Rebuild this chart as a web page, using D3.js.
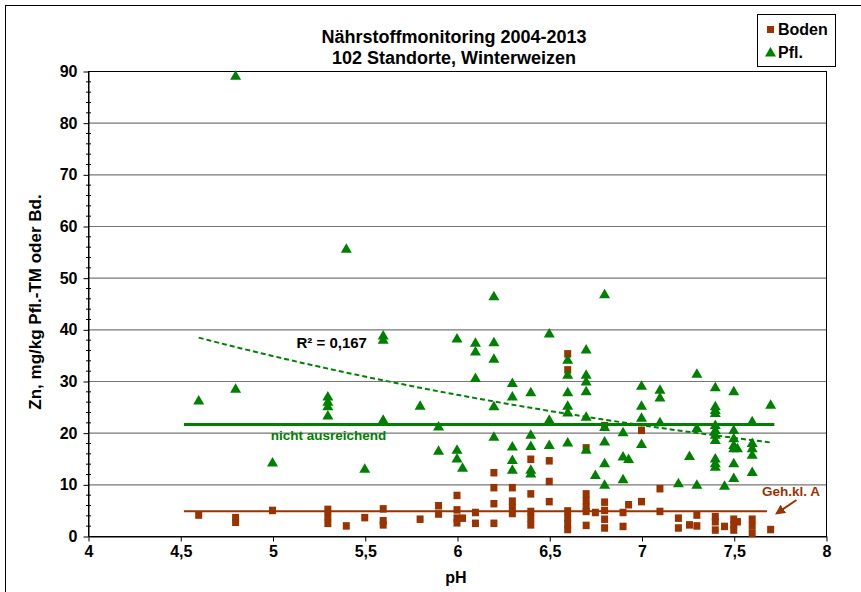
<!DOCTYPE html>
<html>
<head>
<meta charset="utf-8">
<script src="https://cdn.jsdelivr.net/npm/d3@7/dist/d3.min.js"></script>
<style>
body { margin: 0; background: white; }
text { font-family: Arial, "Liberation Sans", sans-serif; font-weight: bold; }
</style>
</head>
<body>
<div id="canvas"></div>
<script>
"use strict"

/* Boden samples (pH, Zn mg/kg) */
let bodenPH = [4.6, 4.8, 4.8, 5.0, 5.3, 5.3, 5.3, 5.4, 5.5, 5.6, 5.6, 5.6, 5.8, 5.9, 5.9,
    6.0, 6.0, 6.0, 6.0, 6.03, 6.1, 6.1, 6.2, 6.2, 6.2, 6.2, 6.3, 6.3, 6.3, 6.3,
    6.4, 6.4, 6.4, 6.4, 6.4, 6.5, 6.5, 6.5, 6.6, 6.6, 6.6, 6.6, 6.6, 6.6,
    6.7, 6.7, 6.7, 6.7, 6.7, 6.7, 6.75, 6.8, 6.8, 6.8, 6.8, 6.8, 6.9, 6.9, 6.93,
    7.0, 7.0, 7.1, 7.1, 7.2, 7.2, 7.26, 7.3, 7.3, 7.4, 7.4, 7.4, 7.45,
    7.5, 7.5, 7.5, 7.52, 7.6, 7.6, 7.6, 7.7];
let bodenZn = [4.1, 3.6, 2.7, 5.0, 5.2, 3.8, 2.5, 2.0, 3.6, 5.3, 3.0, 2.2, 3.3, 5.9, 4.3,
    7.9, 5.1, 3.5, 2.6, 3.5, 4.6, 2.5, 12.3, 9.4, 6.3, 2.5, 9.4, 6.8, 5.6, 4.4,
    14.9, 8.2, 4.8, 3.5, 2.2, 14.6, 10.6, 6.7, 35.3, 32.2, 4.9, 3.6, 2.4, 1.3,
    17.1, 8.2, 6.9, 5.6, 4.8, 2.1, 4.6, 21.4, 6.6, 5.0, 3.3, 1.6, 4.6, 1.9, 6.1,
    20.5, 6.7, 9.2, 4.8, 3.5, 1.6, 2.2, 4.1, 2.0, 3.8, 2.8, 1.2, 1.9,
    3.3, 2.2, 1.2, 2.8, 3.3, 2.0, 0.6, 1.3];

/* Pflanze samples (pH, Zn mg/kg TM) */
let pflPH = [4.6, 4.8, 4.8, 5.0, 5.3, 5.3, 5.3, 5.3, 5.4, 5.5, 5.6, 5.6, 5.6, 5.8, 5.9, 5.9,
    6.0, 6.0, 6.0, 6.03, 6.1, 6.1, 6.1, 6.2, 6.2, 6.2, 6.2, 6.2,
    6.3, 6.3, 6.3, 6.3, 6.3, 6.4, 6.4, 6.4, 6.4, 6.4, 6.5, 6.5, 6.5,
    6.6, 6.6, 6.6, 6.6, 6.6, 6.6, 6.7, 6.7, 6.7, 6.7, 6.7, 6.7, 6.75,
    6.8, 6.8, 6.8, 6.8, 6.8, 6.9, 6.9, 6.9, 6.93, 7.0, 7.0, 7.0, 7.0,
    7.1, 7.1, 7.1, 7.2, 7.26, 7.3, 7.3, 7.3,
    7.4, 7.4, 7.4, 7.4, 7.4, 7.4, 7.4, 7.4, 7.4, 7.4, 7.4, 7.45,
    7.5, 7.5, 7.5, 7.5, 7.5, 7.5, 7.5, 7.52, 7.6, 7.6, 7.6, 7.6, 7.6, 7.7];
let pflZn = [26.3, 89.2, 28.6, 14.3, 27.1, 26.1, 25.2, 23.4, 55.7, 13.1, 38.9, 38.1, 22.6, 25.3, 21.3, 16.6,
    38.3, 16.8, 15.1, 13.3, 37.5, 35.8, 30.7, 46.5, 37.6, 34.4, 25.2, 19.3,
    29.7, 27.1, 17.4, 14.8, 12.9, 27.9, 19.7, 17.5, 12.9, 12.2, 39.3, 22.6, 17.7,
    34.2, 31.3, 27.9, 25.3, 24.0, 18.2, 36.2, 31.3, 30.0, 28.1, 23.2, 16.8, 11.9,
    46.9, 21.2, 18.4, 14.2, 10.0, 20.2, 15.5, 11.1, 15.0, 29.2, 25.3, 23.0, 17.9,
    28.4, 26.9, 22.1, 10.3, 15.6, 31.5, 21.0, 10.0,
    28.9, 25.2, 24.5, 23.9, 21.6, 20.6, 19.7, 18.7, 15.1, 14.2, 13.5, 9.8,
    28.1, 20.6, 19.0, 17.7, 17.1, 14.2, 11.3, 17.1, 22.3, 18.1, 17.1, 15.8, 12.5, 25.5];

let xTicks = [4, 4.5, 5, 5.5, 6, 6.5, 7, 7.5, 8];
let yTicks = [0, 10, 20, 30, 40, 50, 60, 70, 80, 90];
let titleLines = ["Nährstoffmonitoring 2004-2013", "102 Standorte, Winterweizen"];

/* reference levels and exponential trend (y = a * e^(b*x)) */
let grenzePfl = 21.6;
let grenzeBoden = 4.8;
let trendA = 117.2;
let trendB = -0.2426;
let trendFrom = 4.6;
let trendTo = 7.7;

let drawingWidth = 861;
let drawingHeight = 592;
let green = "#008000";
let brown = "#993300";

let plotLeft = 88, plotTop = 71, plotW = 738, plotH = 465;

let drawing = d3.select("#canvas")
    .append("svg")
    .attr("width", drawingWidth)
    .attr("height", drawingHeight);

/* outer frame of the chart */
drawing.append("rect")
    .attr("x", 5.5)
    .attr("y", 5.5)
    .attr("width", drawingWidth + 20)
    .attr("height", drawingHeight + 20)
    .attr("fill", "white")
    .attr("stroke", "black");

let x = d3.scaleLinear().domain([4, 8]).range([plotLeft, plotLeft + plotW]);
let y = d3.scaleLinear().domain([0, 90]).range([plotTop + plotH, plotTop]);

/* gridlines */
drawing.append("g")
    .selectAll("line")
    .data(yTicks.filter(d => d > 0 && d < 90))
    .join("line")
    .attr("x1", plotLeft)
    .attr("x2", plotLeft + plotW)
    .attr("y1", d => y(d) + 0.5)
    .attr("y2", d => y(d) + 0.5)
    .attr("stroke", "#777")
    .attr("stroke-width", 1.2);

drawing.append("rect")
    .attr("x", plotLeft + 0.5)
    .attr("y", plotTop + 0.5)
    .attr("width", plotW)
    .attr("height", plotH)
    .attr("fill", "none")
    .attr("stroke", "black");

/* axes */
let yAxis = drawing.append("g")
    .attr("transform", `translate(${plotLeft + 0.5},0.5)`)
    .call(d3.axisLeft(y).tickValues(yTicks).tickSize(5).tickSizeOuter(0).tickPadding(6)
        .tickFormat(d3.format("d")));

let xAxis = drawing.append("g")
    .attr("transform", `translate(0.5,${plotTop + plotH + 0.5})`)
    .call(d3.axisBottom(x).tickValues(xTicks).tickSize(5).tickSizeOuter(0).tickPadding(4)
        .tickFormat(d => String(d).replace(".", ",")));

[yAxis, xAxis].forEach(a => {
    a.selectAll("text").attr("font-size", 16).attr("fill", "black")
        .attr("font-family", "Arial, 'Liberation Sans', sans-serif").attr("font-weight", "bold");
    a.selectAll("line").attr("stroke", "black");
    a.select(".domain").attr("stroke", "black");
});

/* minor ticks on y every 2 units */
drawing.append("g")
    .selectAll("line")
    .data(d3.range(0, 91, 2).filter(d => d % 10 !== 0))
    .join("line")
    .attr("x1", plotLeft - 2)
    .attr("x2", plotLeft + 3)
    .attr("y1", d => y(d) + 0.5)
    .attr("y2", d => y(d) + 0.5)
    .attr("stroke", "black");

/* Boden squares */
drawing.append("g")
    .selectAll("rect")
    .data(d3.range(bodenPH.length))
    .join("rect")
    .attr("x", i => x(bodenPH[i]) - 3.5)
    .attr("y", i => y(bodenZn[i]) - 3.5)
    .attr("width", 7)
    .attr("height", 7.5)
    .attr("fill", brown);

/* reference lines */
drawing.append("line")
    .attr("x1", x(4.52)).attr("x2", x(7.68))
    .attr("y1", y(grenzeBoden)).attr("y2", y(grenzeBoden))
    .attr("stroke", brown)
    .attr("stroke-width", 2);

drawing.append("line")
    .attr("x1", x(4.52)).attr("x2", x(7.72))
    .attr("y1", y(grenzePfl)).attr("y2", y(grenzePfl))
    .attr("stroke", green)
    .attr("stroke-width", 3);

/* Pfl. triangles */
let triangle = "M0,-5L5.5,4.5L-5.5,4.5Z";
drawing.append("g")
    .selectAll("path")
    .data(d3.range(pflPH.length))
    .join("path")
    .attr("d", triangle)
    .attr("transform", i => `translate(${x(pflPH[i])},${y(pflZn[i])})`)
    .attr("fill", green);

/* trend line */
let trendX = d3.range(trendFrom, trendTo + 0.001, 0.05);
drawing.append("path")
    .attr("d", d3.line().x(d => x(d)).y(d => y(trendA * Math.exp(trendB * d)))(trendX))
    .attr("fill", "none")
    .attr("stroke", green)
    .attr("stroke-width", 2)
    .attr("stroke-dasharray", "5,3");

/* annotations */
drawing.append("text")
    .attr("x", x(5.13)).attr("y", y(36.3))
    .attr("font-size", 15)
    .text("R² = 0,167");

drawing.append("text")
    .attr("x", x(4.99)).attr("y", y(18.6))
    .attr("font-size", 13.5)
    .attr("fill", green)
    .text("nicht ausreichend");

drawing.append("text")
    .attr("x", x(7.653)).attr("y", y(7.74))
    .attr("font-size", 13.5)
    .attr("fill", brown)
    .text("Geh.kl. A");

drawing.append("defs").append("marker")
    .attr("id", "arrow")
    .attr("viewBox", "0 0 10 10")
    .attr("refX", 8).attr("refY", 5)
    .attr("markerWidth", 5).attr("markerHeight", 5)
    .attr("orient", "auto")
    .append("path")
    .attr("d", "M0,0L10,5L0,10Z")
    .attr("fill", brown);

drawing.append("line")
    .attr("x1", x(7.84)).attr("y1", y(6.97))
    .attr("x2", x(7.733)).attr("y2", y(4.39))
    .attr("stroke", brown)
    .attr("stroke-width", 2)
    .attr("marker-end", "url(#arrow)");

/* titles */
drawing.append("g")
    .selectAll("text")
    .data(titleLines)
    .join("text")
    .attr("x", 454)
    .attr("y", (d, i) => 43 + i * 21)
    .attr("text-anchor", "middle")
    .attr("font-size", 18)
    .text(d => d);

drawing.append("text")
    .attr("transform", "translate(41,302) rotate(-90)")
    .attr("text-anchor", "middle")
    .attr("font-size", 17)
    .text("Zn, mg/kg Pfl.-TM oder Bd.");

drawing.append("text")
    .attr("x", 456)
    .attr("y", 583)
    .attr("text-anchor", "middle")
    .attr("font-size", 16)
    .text("pH");

/* legend */
let legend = drawing.append("g");
legend.append("rect")
    .attr("x", 757.5).attr("y", 14.5)
    .attr("width", 78).attr("height", 52)
    .attr("fill", "white")
    .attr("stroke", "black");
legend.append("rect")
    .attr("x", 767).attr("y", 26)
    .attr("width", 7).attr("height", 7)
    .attr("fill", brown);
legend.append("path")
    .attr("d", triangle)
    .attr("transform", "translate(770.5,52)")
    .attr("fill", green);
legend.selectAll("text")
    .data(["Boden", "Pfl."])
    .join("text")
    .attr("x", 778)
    .attr("y", (d, i) => 35 + i * 23)
    .attr("font-size", 16)
    .text(d => d);
</script>
</body>
</html>
